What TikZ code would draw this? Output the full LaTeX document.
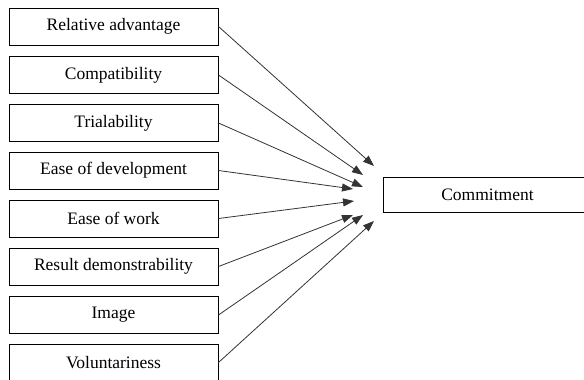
\documentclass[tikz,border=0pt]{standalone}
\usepackage{fontspec}
\setmainfont{Liberation Serif}
\usetikzlibrary{arrows.meta}
\begin{document}
\begin{tikzpicture}[x=1pt,y=-1pt,
  factor/.style={draw=black,line width=1pt,minimum width=209pt,minimum height=37pt,inner sep=0pt,font=\fontsize{17.5}{20}\selectfont},
  link/.style={line width=0.8pt,draw=black!80,-{Triangle[length=11pt,width=8pt]}}]
\clip (0,0) rectangle (584,380);
\fill[white] (0,0) rectangle (584,380);
\node[factor] (b1) at (113.5,26.5) {Relative advantage};
\node[factor] (b2) at (113.5,75) {Compatibility};
\node[factor] (b3) at (113.5,123) {Trialability};
\node[factor] (b4) at (113.5,170.5) {Ease of development};
\node[factor] (b5) at (113.5,218.5) {Ease of work};
\node[factor] (b6) at (113.5,266.5) {Result demonstrability};
\node[factor] (b7) at (113.5,315) {Image};
\node[factor] (b8) at (113.5,362.5) {Voluntariness};
\node[factor,minimum height=35.5pt] (c) at (487.5,194.8) {Commitment};
\coordinate (t1) at (374,166);
\coordinate (t2) at (363,175);
\coordinate (t3) at (363,187);
\coordinate (t4) at (353,189);
\coordinate (t5) at (354,201);
\coordinate (t6) at (353,215);
\coordinate (t7) at (363,215);
\coordinate (t8) at (374,221);
\foreach \i in {1,...,8} {\draw[link] (b\i.east) -- (t\i);}
\end{tikzpicture}
\end{document}
